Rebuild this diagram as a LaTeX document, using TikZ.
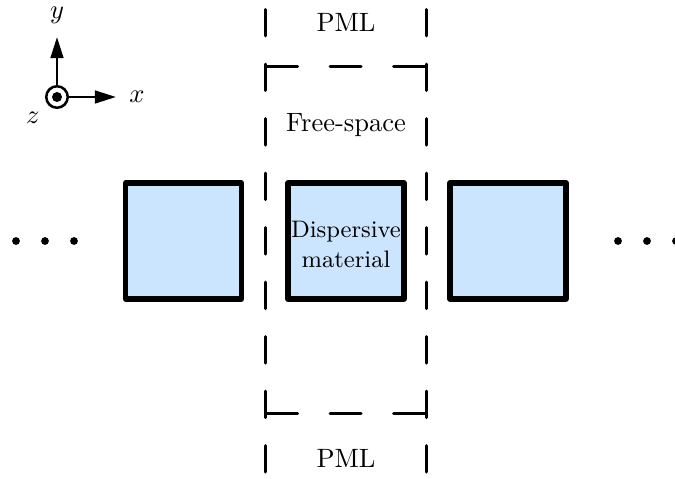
\documentclass[tikz,border=0pt]{standalone}
\usetikzlibrary{arrows.meta}
\definecolor{matblue}{RGB}{204,229,255}
\begin{document}
\begin{tikzpicture}[x=0.377pt,y=-0.377pt,
  cell/.style={draw=black,fill=matblue,line width=1.9pt,line join=round,
    minimum size=43.73pt,inner sep=0pt},
  vbound/.style={line width=1.13pt,line cap=round,dash pattern=on 9.99pt off 10.56pt},
  hbound/.style={line width=1.13pt,line cap=round,dash pattern=on 11.69pt off 12.25pt},
  axis/.style={line width=0.95pt,-{Triangle[length=8pt,width=4.8pt]}},
  dotmark/.style={fill=black}]
\useasboundingbox (0,0) rectangle (675,478);
% boundaries
\draw[vbound] (265,9.5) -- (265,472);
\draw[vbound] (426,9.5) -- (426,472);
\draw[hbound] (266.5,67) -- (424.5,67);
\draw[hbound] (266.5,413) -- (424.5,413);
% cells
\node[cell] (left) at (183.5,241) {};
\node[cell] (mid) at (346,241) {};
\node[cell] (right) at (508,241) {};
\node[align=center,font=\small,inner sep=0pt] (midtext) at (346,244.5) {Dispersive\\material};
% labels
\node[inner sep=0pt] (pmltop) at (346,22.5) {PML};
\node[inner sep=0pt] (free) at (346,125.5) {Free-space};
\node[inner sep=0pt] (pmlbot) at (346,458) {PML};
% dots
\foreach \xx in {16,45,74,618,647,676} \fill[dotmark] (\xx,241) circle[radius=3.9];
% axes
\node[circle,draw,line width=0.95pt,minimum size=8.1pt,inner sep=0pt] (o) at (57,97) {};
\fill (o.center) circle[radius=5];
\coordinate (ytip) at (57,37);
\coordinate (xtip) at (116,97);
\draw[axis] (o) -- (ytip);
\draw[axis] (o) -- (xtip);
\node[inner sep=0pt] (ylab) at (57,15) {$y$};
\node[inner sep=0pt] (xlab) at (137,97) {$x$};
\node[inner sep=0pt] (zlab) at (33,118) {$z$};
\end{tikzpicture}
\end{document}
